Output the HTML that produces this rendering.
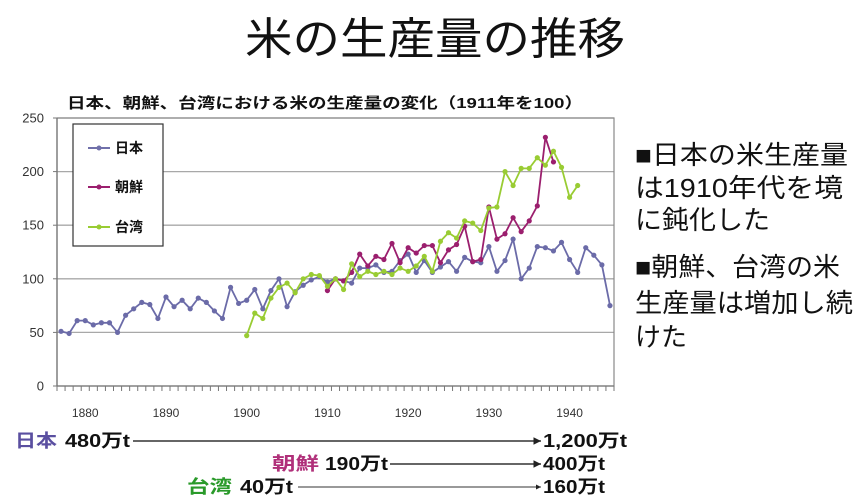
<!DOCTYPE html>
<html><head><meta charset="utf-8">
<style>
html,body{margin:0;padding:0;background:#fff;}
svg{display:block;font-family:"Liberation Sans","Noto Sans CJK JP",sans-serif;}
</style></head>
<body>
<svg id="s" width="859" height="503" viewBox="0 0 859 503">
<text x="435" y="54" font-size="44" text-anchor="middle" textLength="380" lengthAdjust="spacingAndGlyphs" fill="#111">米の生産量の推移</text>
<text x="325" y="108" font-size="15" font-weight="bold" text-anchor="middle" textLength="516" lengthAdjust="spacingAndGlyphs" fill="#111">日本、朝鮮、台湾における米の生産量の変化（1911年を100）</text>
<g id="plot"></g>
<g>
<rect x="73" y="124" width="90" height="122" fill="#fff" stroke="#333" stroke-width="1.2"/>
<g><line x1="88" y1="148" x2="110" y2="148" stroke="#7070aa" stroke-width="2"/><circle cx="99" cy="148" r="2.5" fill="#7070aa"/><text x="115" y="153" font-size="14" font-weight="bold" fill="#111">日本</text></g>
<g><line x1="88" y1="187" x2="110" y2="187" stroke="#9b1f6e" stroke-width="2"/><circle cx="99" cy="187" r="2.5" fill="#9b1f6e"/><text x="115" y="192" font-size="14" font-weight="bold" fill="#111">朝鮮</text></g>
<g><line x1="88" y1="227" x2="110" y2="227" stroke="#99cc33" stroke-width="2"/><circle cx="99" cy="227" r="2.5" fill="#99cc33"/><text x="115" y="232" font-size="14" font-weight="bold" fill="#111">台湾</text></g>
</g>
<g font-size="26" fill="#111">
<text x="635" y="164" textLength="213" lengthAdjust="spacingAndGlyphs">■日本の米生産量</text>
<text x="635" y="197" textLength="208" lengthAdjust="spacingAndGlyphs">は1910年代を境</text>
<text x="635" y="229" textLength="135" lengthAdjust="spacingAndGlyphs">に鈍化した</text>
<text x="635" y="276" textLength="205" lengthAdjust="spacingAndGlyphs">■朝鮮、台湾の米</text>
<text x="635" y="312" textLength="218" lengthAdjust="spacingAndGlyphs">生産量は増加し続</text>
<text x="635" y="346" textLength="52" lengthAdjust="spacingAndGlyphs">けた</text>
</g>
<defs><marker id="ah" markerWidth="6" markerHeight="6" refX="5" refY="3" orient="auto"><path d="M0,0.5 L5,3 L0,5.5Z" fill="#222"/></marker></defs>
<g font-weight="bold" font-size="18">
<text x="15" y="447" fill="#5a4fa0" textLength="42" lengthAdjust="spacingAndGlyphs">日本</text>
<text x="65" y="447" fill="#111" textLength="65" lengthAdjust="spacingAndGlyphs">480万t</text>
<line x1="133" y1="441" x2="541" y2="441" stroke="#333" stroke-width="1.5" marker-end="url(#ah)"/>
<text x="543" y="447" fill="#111" textLength="84" lengthAdjust="spacingAndGlyphs">1,200万t</text>
<text x="272" y="470" fill="#b0307a" textLength="47" lengthAdjust="spacingAndGlyphs">朝鮮</text>
<text x="325" y="470" fill="#111" textLength="63" lengthAdjust="spacingAndGlyphs">190万t</text>
<line x1="390" y1="464" x2="541" y2="464" stroke="#333" stroke-width="1.5" marker-end="url(#ah)"/>
<text x="543" y="470" fill="#111" textLength="62" lengthAdjust="spacingAndGlyphs">400万t</text>
<text x="187" y="493" fill="#2a9a2a" textLength="45" lengthAdjust="spacingAndGlyphs">台湾</text>
<text x="240" y="493" fill="#111" textLength="53" lengthAdjust="spacingAndGlyphs">40万t</text>
<line x1="298" y1="487" x2="541" y2="487" stroke="#333" stroke-width="1" marker-end="url(#ah)"/>
<text x="543" y="493" fill="#111" textLength="62" lengthAdjust="spacingAndGlyphs">160万t</text>
</g>
</svg>
<script>
const years = [];
for (let y = 1877; y <= 1945; y++) years.push(y);
const japan = [51,49,61,61,57,59,59,50,66,72,78,76,63,83,74,80,72,82,78,70,63,92,77,80,90,72,89,100,74,88,94,99,102,97,100,98,96,110,110,113,106,107,117,123,106,117,106,111,116,107,120,116,115,130,107,117,137,100,110,130,129,126,134,118,106,129,122,113,75];
const koreaStart = 1910;
const korea = [89,100,98,106,123,112,121,118,133,115,129,124,131,131,115,127,132,149,116,118,167,137,142,157,144,154,168,232,209];
const taiwanStart = 1900;
const taiwan = [47,68,63,82,92,96,87,100,104,103,93,100,90,114,102,107,104,107,104,110,107,112,121,107,135,143,138,154,152,145,166,167,200,187,203,203,213,206,219,204,176,187];
const yTicks = [0,50,100,150,200,250];
const xLabels = [1880,1890,1900,1910,1920,1930,1940];

const NS = "http://www.w3.org/2000/svg";
const plot = document.getElementById('plot');
const L = 57, R = 614, T = 118, B = 386, YMAX = 250;
const step = (R - L) / years.length;
const xOf = yr => L + step * (yr - years[0] + 0.5);
const yOf = v => B - (B - T) * v / YMAX;
function mk(tag, attrs, parent) {
  const e = document.createElementNS(NS, tag);
  for (const k in attrs) e.setAttribute(k, attrs[k]);
  (parent || plot).appendChild(e);
  return e;
}
yTicks.forEach(t => {
  if (t > 0) {
    const g = mk('line', {x1: L, x2: R, y1: yOf(t), y2: yOf(t), stroke: '#a8a8a8', 'stroke-width': 1.3});
    
    
  }
  const tx = mk('text', {x: 44, y: yOf(t) + 4.5, 'font-size': 13, 'text-anchor': 'end', fill: '#333'});
  tx.textContent = t;
  
  
  mk('line', {x1: L - 4, x2: L, y1: yOf(t), y2: yOf(t), stroke: '#777'});
});
const frame = mk('rect', {x: L, y: T, width: R - L, height: B - T, fill: 'none', stroke: '#888', 'stroke-width': 1.2});


for (let i = 0; i <= years.length; i++) {
  const x = L + step * i;
  mk('line', {x1: x, x2: x, y1: B, y2: B + 5, stroke: '#777'});
}
xLabels.forEach(yr => {
  const tx = mk('text', {x: xOf(yr), y: 417, 'font-size': 12, 'text-anchor': 'middle', fill: '#333'});
  tx.textContent = yr;
  
  
});
function series(vals, start, color, name) {
  const g = mk('g', {});
  
  
  const pts = vals.map((v, i) => xOf(start + i).toFixed(1) + ',' + yOf(v).toFixed(1)).join(' ');
  const pl = mk('polyline', {points: pts, fill: 'none', stroke: color, 'stroke-width': 1.8}, g);
  
  
  vals.forEach((v, i) => {
    const c = mk('circle', {cx: xOf(start + i), cy: yOf(v), r: 2.6, fill: color}, g);
    
    
  });
}
series(japan, years[0], '#6b6ba8', 'japan');
series(korea, koreaStart, '#9b1f6e', 'korea');
series(taiwan, taiwanStart, '#99cc33', 'taiwan');
const ax = mk('line', {x1: L, x2: L, y1: T, y2: B, stroke: '#777', 'stroke-width': 1.3});


const bx = mk('line', {x1: L, x2: R, y1: B, y2: B, stroke: '#777', 'stroke-width': 1.3});


</script>
</body></html>
